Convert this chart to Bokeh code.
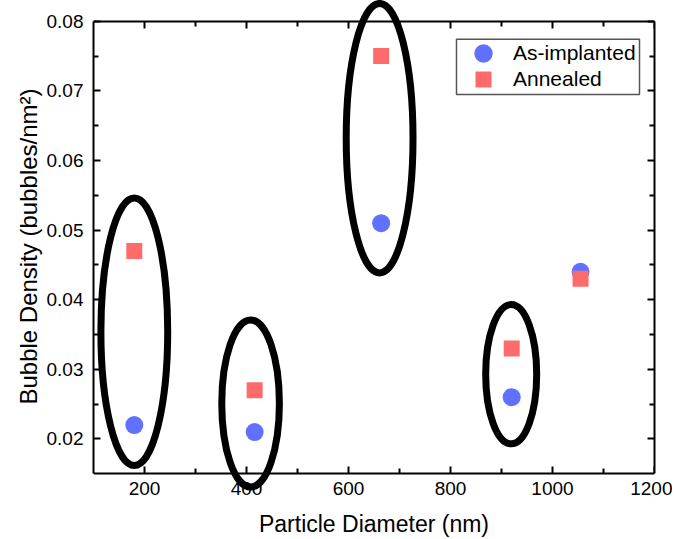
import numpy as np
from bokeh.plotting import figure
from bokeh.models import (FixedTicker, LinearAxis, Legend, LegendItem, Range1d,
                          NumeralTickFormatter, BoxAnnotation)
from bokeh.embed import file_html
from bokeh.resources import INLINE

# ---- data ----
diam_implanted = [180, 416, 664, 920, 1055]
dens_implanted = [0.022, 0.021, 0.051, 0.026, 0.044]
diam_annealed = [180, 416, 664, 920, 1055]
dens_annealed = [0.047, 0.027, 0.075, 0.033, 0.043]

# highlight ellipses (centre x, centre y, full width, full height)
ell_cx = [180, 408, 661, 919]
ell_cy = [0.0354, 0.0251, 0.0632, 0.0293]
ell_w = [131, 113, 131, 100]
ell_h = [0.0384, 0.0240, 0.0387, 0.0200]

x_ticks = [200, 400, 600, 800, 1000, 1200]
x_minor = [300, 500, 700, 900, 1100]
y_ticks = [0.02, 0.03, 0.04, 0.05, 0.06, 0.07, 0.08]
y_minor = [0.025, 0.035, 0.045, 0.055, 0.065, 0.075]
X_MIN, X_MAX = 100, 1200
Y_MIN, Y_MAX = 0.015, 0.08

FONT = "Liberation Sans"

# ---- layout: axis box drawn at Y_MIN..Y_MAX, frame a bit taller so the
# highlight ellipses may cross the box edges like in the original ----
W, H = 672, 539
FRAME_TOP = 1
FRAME_H = 490
BOX_TOP_PX = 19.7       # px from frame top to Y_MAX
BOX_H_PX = 452.6        # px between Y_MAX and Y_MIN
BOX_BOTTOM_GAP = FRAME_H - BOX_TOP_PX - BOX_H_PX
k = (Y_MAX - Y_MIN) / BOX_H_PX
y_hi = Y_MAX + BOX_TOP_PX * k
y_lo = y_hi - FRAME_H * k

p = figure(width=W, height=H, output_backend="svg", toolbar_location=None,
           x_range=Range1d(X_MIN, X_MAX), y_range=Range1d(y_lo, y_hi),
           min_border_left=93, min_border_right=18, min_border_top=FRAME_TOP,
           min_border_bottom=H - FRAME_TOP - FRAME_H)
p.outline_line_color = None
p.xgrid.visible = False
p.ygrid.visible = False
p.background_fill_color = "white"
p.border_fill_color = "white"


def base_style(ax):
    ax.axis_line_width = 2
    ax.axis_line_color = "black"
    ax.major_tick_line_width = 2
    ax.minor_tick_line_width = 2
    ax.major_tick_line_color = "black"
    ax.minor_tick_line_color = "black"
    ax.major_tick_out = 0
    ax.minor_tick_out = 0
    ax.major_label_text_font = FONT
    ax.major_label_text_font_size = "19px"
    ax.major_label_text_color = "black"
    ax.axis_label_text_font = FONT
    ax.axis_label_text_font_size = "23px"
    ax.axis_label_text_font_style = "normal"
    ax.axis_label_text_color = "black"


def tick_only_axis(ticks, length, with_line):
    ax = LinearAxis(ticker=FixedTicker(ticks=[], minor_ticks=ticks))
    base_style(ax)
    ax.major_tick_in = 0
    ax.minor_tick_in = length
    ax.major_label_standoff = 0
    ax.axis_label_standoff = 0
    if not with_line:
        ax.axis_line_color = None
    return ax


# bottom axis: tick labels + title (line and ticks drawn by pinned axes)
xa = p.xaxis[0]
base_style(xa)
xa.ticker = FixedTicker(ticks=x_ticks, minor_ticks=[])
xa.axis_line_color = None
xa.major_tick_line_color = None
xa.minor_tick_line_color = None
xa.major_tick_in = 0
xa.minor_tick_in = 0
xa.major_label_standoff = 8 - round(BOX_BOTTOM_GAP)
xa.axis_label = "Particle Diameter (nm)"
xa.axis_label_standoff = 13

for tks, ln, line in ((x_ticks, 7, True), (x_minor, 5, False)):
    ax = tick_only_axis(tks, ln, line)
    ax.fixed_location = Y_MIN
    p.add_layout(ax, "below")

# left axis with tick labels
ya = p.yaxis[0]
base_style(ya)
ya.ticker = FixedTicker(ticks=y_ticks, minor_ticks=y_minor)
ya.formatter = NumeralTickFormatter(format="0.00")
ya.bounds = (Y_MIN, Y_MAX)
ya.major_tick_in = 7
ya.minor_tick_in = 5
ya.major_label_standoff = 10

# left axis title
shift = 9 * k
yt = LinearAxis(ticker=FixedTicker(ticks=[], minor_ticks=[]),
                axis_label="Bubble Density (bubbles/nm²)")
base_style(yt)
yt.axis_label_text_font_size = "24px"
yt.axis_line_color = None
yt.major_tick_in = 0
yt.minor_tick_in = 0
yt.major_label_standoff = 0
yt.axis_label_standoff = 2
yt.bounds = (Y_MIN + shift, Y_MAX + shift)
p.add_layout(yt, "left")

# top box edge with inward ticks (no labels)
for tks, ln, line in ((x_ticks, 7, True), (x_minor, 5, False)):
    ax = tick_only_axis(tks, ln, line)
    ax.fixed_location = Y_MAX
    p.add_layout(ax, "above")

# right box edge with inward ticks (no labels)
for tks, ln, line in ((y_ticks, 7, True), (y_minor, 5, False)):
    ax = tick_only_axis(tks, ln, line)
    ax.bounds = (Y_MIN, Y_MAX)
    p.add_layout(ax, "right")

# highlight ellipses (drawn above the axes, as in the original)
p.ellipse(x=ell_cx, y=ell_cy, width=ell_w, height=ell_h, fill_color=None,
          line_color="black", line_width=7, level="overlay")

r_imp = p.scatter(diam_implanted, dens_implanted, marker="circle", size=18,
                  fill_color="#6070ff", line_color=None)
r_ann = p.scatter(diam_annealed, dens_annealed, marker="square", size=16,
                  fill_color="#ff6b6b", line_color=None)

# ---- legend: framed box + one borderless legend per entry ----
LEG_LEFT, LEG_RIGHT = 363, 546          # px from frame left
LEG_TOP, LEG_BOTTOM = 38.7, 94          # px from page top
ROW_CENTERS = [53.3, 79.3]              # px from page top
frame_bottom = FRAME_TOP + FRAME_H

box = BoxAnnotation(left=LEG_LEFT, right=LEG_RIGHT,
                    bottom=frame_bottom - LEG_BOTTOM, top=frame_bottom - LEG_TOP,
                    left_units="screen", right_units="screen",
                    bottom_units="screen", top_units="screen",
                    fill_color="white", fill_alpha=1,
                    line_color="#555555", line_alpha=1, line_width=1.5)
p.add_layout(box)

for label, rend, gh, cy in (("As-implanted", r_imp, 46, ROW_CENTERS[0]),
                            ("Annealed", r_ann, 40, ROW_CENTERS[1])):
    lg = Legend(items=[LegendItem(label=label, renderers=[rend])],
                location=(LEG_LEFT, round(frame_bottom - (cy + gh / 2))))
    lg.label_text_font = FONT
    lg.label_text_font_size = "21px"
    lg.label_text_color = "black"
    lg.margin = 0
    lg.padding = 0
    lg.spacing = 0
    lg.glyph_width = 54
    lg.glyph_height = gh
    lg.label_height = gh
    lg.label_standoff = 3
    lg.border_line_color = None
    lg.background_fill_alpha = 0
    p.add_layout(lg, "center")

open("out.html", "w").write(file_html(p, INLINE))
